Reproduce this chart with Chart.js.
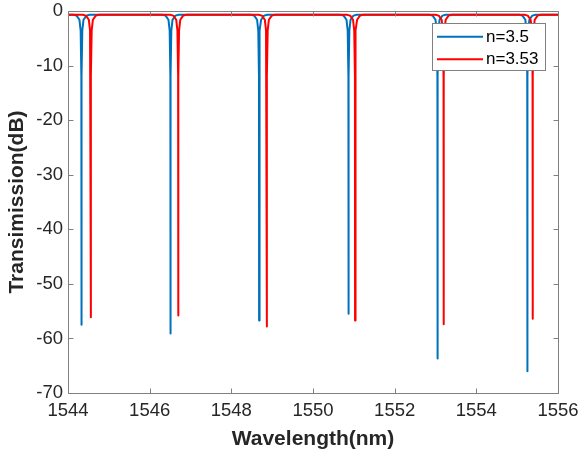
<!DOCTYPE html>
<html>
<head>
<meta charset="utf-8">
<script src="https://cdn.jsdelivr.net/npm/chart.js@4/dist/chart.umd.min.js"></script>
<style>
  html, body { margin: 0; padding: 0; background: #fff; }
  #wrap { width: 579px; height: 454px; }
</style>
</head>
<body>
<div id="wrap"><canvas id="c" width="579" height="454"></canvas></div>
<script>
// ---- data ----
const seriesLabels = ['n=3.5', 'n=3.53'];
const xTicks = [1544, 1546, 1548, 1550, 1552, 1554, 1556];
const yTicks = [0, -10, -20, -30, -40, -50, -60, -70];

const blueX = [1544.00,
  1544.13,1544.21,1544.28,1544.31,1544.327,1544.33,1544.333,1544.35,1544.38,1544.45,1544.53,
  1546.31,1546.39,1546.46,1546.49,1546.507,1546.51,1546.513,1546.53,1546.56,1546.63,1546.71,
  1548.48,1548.56,1548.63,1548.66,1548.677,1548.68,1548.683,1548.70,1548.73,1548.80,1548.88,
  1550.67,1550.75,1550.82,1550.85,1550.867,1550.87,1550.873,1550.89,1550.92,1550.99,1551.07,
  1552.85,1552.93,1553.00,1553.03,1553.047,1553.05,1553.053,1553.07,1553.10,1553.17,1553.25,
  1555.05,1555.13,1555.20,1555.23,1555.247,1555.25,1555.253,1555.27,1555.30,1555.37,1555.45,
  1556.00];
const blueY = [-0.68,
  -0.68,-0.85,-1.6,-3.6,-12,-57.5,-12,-3.6,-1.6,-0.85,-0.68,
  -0.68,-0.85,-1.6,-3.6,-12,-59.1,-12,-3.6,-1.6,-0.85,-0.68,
  -0.68,-0.85,-1.6,-3.6,-12,-56.7,-12,-3.6,-1.6,-0.85,-0.68,
  -0.68,-0.85,-1.6,-3.6,-12,-55.5,-12,-3.6,-1.6,-0.85,-0.68,
  -0.68,-0.85,-1.6,-3.6,-12,-63.7,-12,-3.6,-1.6,-0.85,-0.68,
  -0.68,-0.85,-1.6,-3.6,-12,-66.0,-12,-3.6,-1.6,-0.85,-0.68,
  -0.68];

const redX = [1544.00,
  1544.36,1544.44,1544.51,1544.54,1544.557,1544.56,1544.563,1544.58,1544.61,1544.68,1544.76,
  1546.50,1546.58,1546.65,1546.68,1546.697,1546.70,1546.703,1546.72,1546.75,1546.82,1546.90,
  1548.67,1548.75,1548.82,1548.85,1548.867,1548.87,1548.873,1548.89,1548.92,1548.99,1549.07,
  1550.83,1550.91,1550.98,1551.01,1551.027,1551.03,1551.033,1551.05,1551.08,1551.15,1551.23,
  1553.00,1553.08,1553.15,1553.18,1553.197,1553.20,1553.203,1553.22,1553.25,1553.32,1553.40,
  1555.18,1555.26,1555.33,1555.36,1555.377,1555.38,1555.383,1555.40,1555.43,1555.50,1555.58,
  1556.00];
const redY = [-0.68,
  -0.68,-0.85,-1.6,-3.6,-12,-56.1,-12,-3.6,-1.6,-0.85,-0.68,
  -0.68,-0.85,-1.6,-3.6,-12,-55.8,-12,-3.6,-1.6,-0.85,-0.68,
  -0.68,-0.85,-1.6,-3.6,-12,-57.8,-12,-3.6,-1.6,-0.85,-0.68,
  -0.68,-0.85,-1.6,-3.6,-12,-56.7,-12,-3.6,-1.6,-0.85,-0.68,
  -0.68,-0.85,-1.6,-3.6,-12,-57.4,-12,-3.6,-1.6,-0.85,-0.68,
  -0.68,-0.85,-1.6,-3.6,-12,-56.4,-12,-3.6,-1.6,-0.85,-0.68,
  -0.68];

const BLUE = '#0072BD';
const RED = '#FF0000';
const AXIS = '#808080';
const TEXT = '#262626';
const FONT = "'Liberation Sans', Arial, Helvetica, sans-serif";

const zip = (xs, ys) => xs.map((x, i) => ({ x: x, y: ys[i] }));

// inner ticks, box and MATLAB-like legend
const boxPlugin = {
  id: 'matlabBox',
  afterDraw(chart) {
    const { ctx, chartArea: a, scales } = chart;
    const L = Math.round(a.left) + 0.5, R = Math.round(a.right) + 0.5;
    const T = Math.round(a.top) + 0.5, B = Math.round(a.bottom) + 0.5;
    ctx.save();
    ctx.strokeStyle = AXIS;
    ctx.lineWidth = 1;
    ctx.beginPath();
    ctx.rect(L, T, R - L, B - T);
    const tl = 5;
    scales.x.ticks.forEach(t => {
      const px = Math.round(scales.x.getPixelForValue(t.value)) + 0.5;
      ctx.moveTo(px, B); ctx.lineTo(px, B - tl);
      ctx.moveTo(px, T); ctx.lineTo(px, T + tl);
    });
    scales.y.ticks.forEach(t => {
      const py = Math.round(scales.y.getPixelForValue(t.value)) + 0.5;
      ctx.moveTo(L, py); ctx.lineTo(L + tl, py);
      ctx.moveTo(R, py); ctx.lineTo(R - tl, py);
    });
    ctx.stroke();

    // legend
    const lx = 432.5, ly = 23.5, lw = 113, lh = 47;
    ctx.fillStyle = '#fff';
    ctx.fillRect(lx, ly, lw, lh);
    ctx.strokeStyle = AXIS;
    ctx.strokeRect(lx, ly, lw, lh);
    const rows = [36.7, 59.3];
    chart.data.datasets.forEach((ds, i) => {
      const y = rows[i];
      ctx.strokeStyle = ds.borderColor;
      ctx.lineWidth = 2;
      ctx.beginPath();
      ctx.moveTo(437, y); ctx.lineTo(483, y);
      ctx.stroke();
      ctx.fillStyle = '#000';
      ctx.font = '17px ' + FONT;
      ctx.textBaseline = 'middle';
      ctx.textAlign = 'left';
      ctx.fillText(ds.label, 486, y + 0.5);
    });
    ctx.restore();
  }
};

new Chart(document.getElementById('c'), {
  type: 'scatter',
  data: {
    datasets: [
      { label: seriesLabels[0], data: zip(blueX, blueY), borderColor: BLUE, backgroundColor: BLUE,
        showLine: true, pointRadius: 0, borderWidth: 2, borderJoinStyle: 'round', order: 1 },
      { label: seriesLabels[1], data: zip(redX, redY), borderColor: RED, backgroundColor: RED,
        showLine: true, pointRadius: 0, borderWidth: 2, borderJoinStyle: 'round', order: 0 }
    ]
  },
  options: {
    responsive: false,
    animation: false,
    events: [],
    layout: { padding: { top: 11, right: 21, left: 0, bottom: 0 } },
    plugins: { legend: { display: false }, tooltip: { enabled: false } },
    scales: {
      x: {
        type: 'linear', min: 1544, max: 1556,
        afterBuildTicks: s => { s.ticks = xTicks.map(v => ({ value: v })); },
        afterFit: s => { s.height = 61; s.paddingLeft = 0; s.paddingRight = 0; },
        grid: { display: false, drawTicks: false },
        border: { display: false },
        ticks: { autoSkip: false, maxRotation: 0, padding: 7, color: TEXT,
                 font: { family: FONT, size: 18.5 }, callback: v => String(v) },
        title: { display: true, text: 'Wavelength(nm)', color: TEXT,
                 font: { family: FONT, size: 21, weight: 'bold' }, padding: { top: 0, bottom: 2 } }
      },
      y: {
        type: 'linear', min: -70, max: 0,
        afterBuildTicks: s => { s.ticks = yTicks.map(v => ({ value: v })); },
        afterFit: s => { s.width = 68; s.paddingTop = 0; s.paddingBottom = 0; },
        grid: { display: false, drawTicks: false },
        border: { display: false },
        ticks: { autoSkip: false, padding: 5, color: TEXT,
                 font: { family: FONT, size: 18.5 }, callback: v => String(v) },
        title: { display: true, text: 'Transimission(dB)', color: TEXT,
                 font: { family: FONT, size: 21, weight: 'bold' }, padding: { top: 5, bottom: 0 } }
      }
    }
  },
  plugins: [boxPlugin]
});
</script>
</body>
</html>
